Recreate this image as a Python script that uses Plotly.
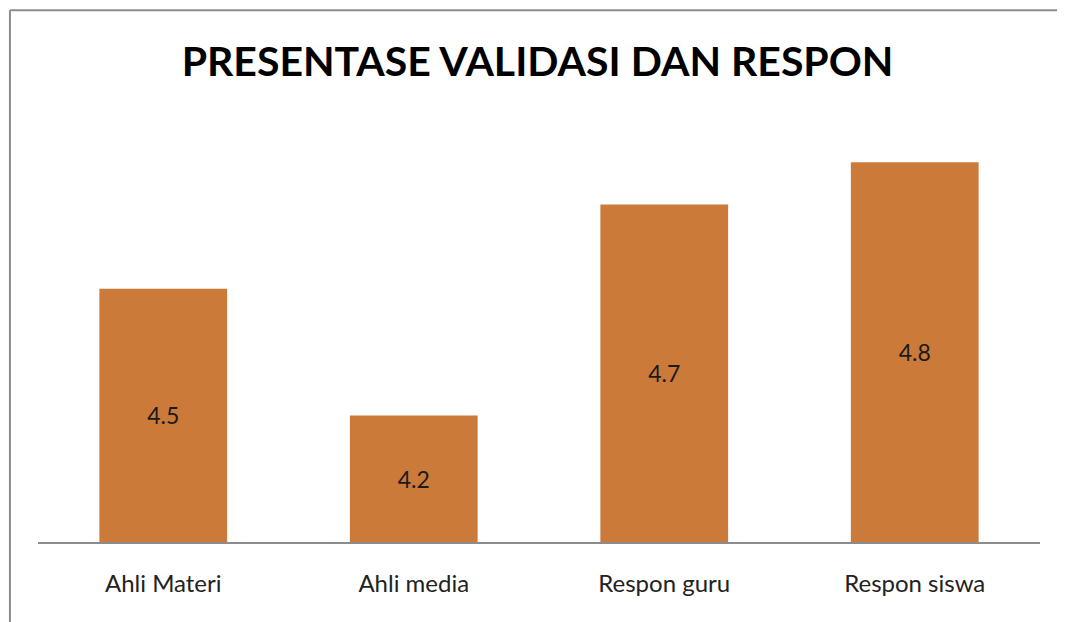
import plotly.graph_objects as go

categories = ["Ahli Materi", "Ahli media", "Respon guru", "Respon siswa"]
values = [4.5, 4.2, 4.7, 4.8]
value_labels = ["4.5", "4.2", "4.7", "4.8"]
title_text = "PRESENTASE VALIDASI DAN RESPON"

axis_min, axis_max = 3.9, 4.9
bar_color = "#CC7A3A"
frame_color = "#8c8c8c"

fig = go.Figure(go.Bar(
    x=categories,
    y=[v - axis_min for v in values],
    base=axis_min,
    marker=dict(color=bar_color, line=dict(width=0)),
    text=value_labels, textposition="inside", insidetextanchor="middle",
    textfont=dict(family="Lato", size=23, color="#1a1a1a"),
    textangle=0,
    hovertext=[str(v) for v in values], hoverinfo="text+x",
))

fig.update_layout(
    width=1057, height=614,
    margin=dict(l=30, r=25, t=112, b=80),
    paper_bgcolor="white", plot_bgcolor="white",
    bargap=0.49,
    showlegend=False,
    title=dict(text="<b>" + title_text + "</b>", x=0.501, xanchor="center",
               y=0.912, yanchor="middle",
               font=dict(family="Lato", size=41, color="black")),
    xaxis=dict(showline=True, linecolor=frame_color, linewidth=1.5,
               ticks="", showgrid=False,
               tickfont=dict(family="Lato", size=24, color="#222222"),
               ticklabelstandoff=19),
    yaxis=dict(range=[axis_min, axis_max], visible=False, showgrid=False),
    shapes=[
        dict(type="line", xref="paper", yref="paper",
             x0=-0.028, x1=-0.028, y0=-0.4, y1=1.26,
             line=dict(color=frame_color, width=2)),
        dict(type="line", xref="paper", yref="paper",
             x0=-0.028, x1=1.2, y0=1.26, y1=1.26,
             line=dict(color=frame_color, width=2)),
    ],
)

fig.write_html("out.html")
